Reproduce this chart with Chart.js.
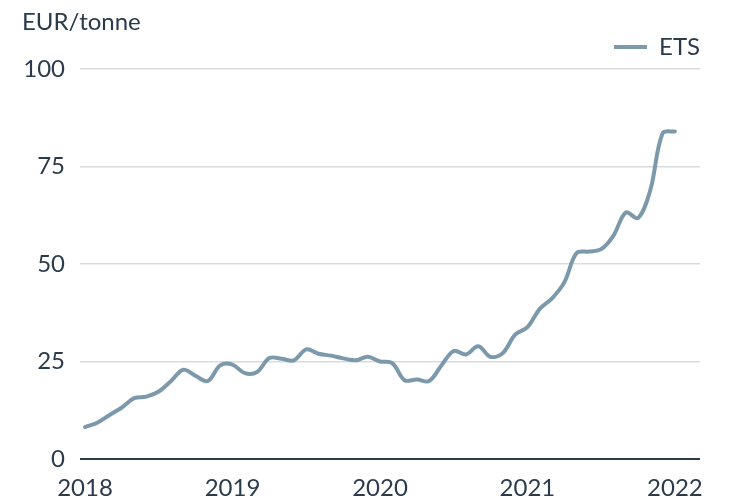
<!DOCTYPE html>
<html>
<head>
<meta charset="utf-8">
<script src="https://cdn.jsdelivr.net/npm/chart.js@4"></script>
<style>
  html, body { margin: 0; padding: 0; background: #fff; }
  #wrap { width: 733px; height: 503px; }
</style>
</head>
<body>
<div id="wrap"><canvas id="etsChart"></canvas></div>
<script>
// monthly EUA price, Jan 2018 .. Jan 2022
var startYear = 2018;
var etsPrices = [
    8.2, 9.3, 11.3, 13.2, 15.6, 16.0, 17.3, 20.0, 22.9, 21.3, 20.0, 24.0,
    24.2, 22.0, 22.3, 25.9, 25.7, 25.3, 28.1, 27.0, 26.5, 25.8, 25.3, 26.2,
    25.0, 24.6, 20.2, 20.4, 20.0, 24.0, 27.7, 26.8, 28.9, 26.2, 27.2, 31.9,
    33.8, 38.5, 41.2, 45.3, 52.8, 53.2, 53.8, 57.3, 63.2, 61.8, 69.0, 83.5,
    84.0
];
var yearTicks = [2018, 2019, 2020, 2021, 2022];
var valueTicks = [0, 25, 50, 75, 100];

var points = etsPrices.map(function (v, i) {
    return { x: startYear + i / 12, y: v };
});

var textColor = '#2c3b4c';
var lineColor = '#7b99ab';
var fontFamily = 'Lato, "Open Sans", sans-serif';
var tickFont = { family: fontFamily, size: 24, weight: 400 };

var ctx = document.getElementById('etsChart');
var etsChart = new Chart(ctx, {
    type: 'line',
    data: {
        datasets: [{
            label: 'ETS',
            data: points,
            borderColor: lineColor,
            backgroundColor: lineColor,
            borderWidth: 4,
            borderCapStyle: 'round',
            borderJoinStyle: 'round',
            pointRadius: 0,
            tension: 0.35
        }]
    },
    options: {
        responsive: true,
        maintainAspectRatio: false,
        animation: false,
        layout: { padding: { left: 22, right: 33, top: 4, bottom: 0 } },
        plugins: {
            title: {
                display: true,
                text: 'EUR/tonne',
                align: 'start',
                color: textColor,
                font: { family: fontFamily, size: 24, weight: 400, lineHeight: 1 },
                padding: { top: 6, bottom: 1 }
            },
            legend: {
                display: true,
                align: 'end',
                labels: {
                    color: textColor,
                    font: tickFont,
                    usePointStyle: true,
                    pointStyle: 'line',
                    pointStyleWidth: 33,
                    boxHeight: 20,
                    padding: 0
                }
            },
            tooltip: { enabled: false }
        },
        scales: {
            x: {
                type: 'linear',
                min: 2017.966,
                max: 2022.17,
                afterBuildTicks: function (axis) {
                    axis.ticks = yearTicks.map(function (y) { return { value: y }; });
                },
                afterFit: function (axis) { axis.height = 44; },
                grid: { display: false, drawTicks: false },
                border: { display: false },
                ticks: {
                    color: textColor,
                    font: tickFont,
                    padding: 15,
                    maxRotation: 0,
                    autoSkip: false,
                    callback: function (v) { return String(v); }
                }
            },
            y: {
                min: 0,
                max: 100,
                afterBuildTicks: function (axis) {
                    axis.ticks = valueTicks.map(function (v) { return { value: v }; });
                },
                afterFit: function (axis) { axis.width = 58; },
                grid: {
                    color: function (c) { return c.tick && c.tick.value === 0 ? '#2c3b4c' : '#d8dbde'; },
                    lineWidth: function (c) { return c.tick && c.tick.value === 0 ? 2 : 1.5; },
                    drawTicks: false
                },
                border: { display: false },
                ticks: {
                    color: textColor,
                    font: tickFont,
                    padding: 15
                }
            }
        }
    }
});
</script>
</body>
</html>
